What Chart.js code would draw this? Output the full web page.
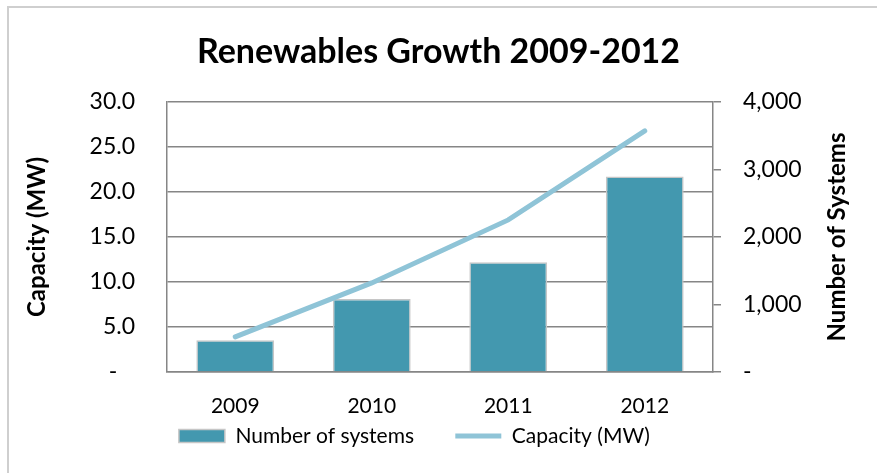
<!DOCTYPE html>
<html>
<head>
<meta charset="utf-8">
<script src="https://cdn.jsdelivr.net/npm/chart.js@4.4.1/dist/chart.umd.min.js"></script>
<style>
    body { margin: 0; background: #fff; overflow: hidden; }
    #wrap { position: relative; width: 877px; height: 473px; }
    #frame { position: absolute; left: 7px; top: 6px; width: 900px; height: 500px; border-top: 2px solid #cfcfcf; border-left: 2px solid #cfcfcf; }
    #chart { position: absolute; left: 0; top: 0; }
</style>
</head>
<body>
<div id="wrap">
    <div id="frame"></div>
    <canvas id="chart" width="877" height="473"></canvas>
</div>
<script>
const years = ['2009', '2010', '2011', '2012']
const systems = [470, 1080, 1625, 2895]
const capacity = [3.9, 9.9, 16.9, 26.8]
const capacityTicks = [0, 5, 10, 15, 20, 25, 30]
const systemTicks = [0, 1000, 2000, 3000, 4000]

const gridGray = '#868686'
const fontName = 'Lato'

// right axis title reads bottom-to-top, chart.js would draw it the other way
const rightTitle = {
    id: 'rightTitle',
    afterDraw(chart) {
        const ctx = chart.ctx
        const area = chart.chartArea
        ctx.save()
        ctx.translate(837, (area.top + area.bottom) / 2)
        ctx.rotate(-Math.PI / 2)
        ctx.font = 'bold 24px ' + fontName
        ctx.fillStyle = '#000'
        ctx.textAlign = 'center'
        ctx.textBaseline = 'middle'
        ctx.fillText('Number of Systems', 0, 0)
        ctx.restore()
    }
}

// trailing spaces only widen the legend items so the spacing looks like the excel one
const legendNames = ['Number of systems      ', 'Capacity (MW)         ']

new Chart(document.getElementById('chart'), {
    type: 'bar',
    data: {
        labels: years,
        datasets: [
            {
                label: legendNames[0],
                data: systems,
                yAxisID: 'y1',
                backgroundColor: '#4398AF',
                borderColor: '#c6c6c6',
                borderWidth: 1.5,
                barPercentage: 0.57,
                categoryPercentage: 1,
                pointStyle: 'rect',
                order: 2
            },
            {
                type: 'line',
                label: legendNames[1],
                data: capacity,
                yAxisID: 'y',
                borderColor: '#8FC4D7',
                backgroundColor: '#8FC4D7',
                borderWidth: 5,
                borderCapStyle: 'round',
                pointRadius: 0,
                pointStyle: 'line',
                tension: 0,
                order: 1
            }
        ]
    },
    options: {
        responsive: false,
        animation: false,
        layout: { padding: { left: 0, right: 0, top: 0, bottom: 16.5 } },
        plugins: {
            title: {
                display: true,
                text: 'Renewables Growth 2009-2012',
                color: '#000',
                font: { family: fontName, size: 34, weight: 'bold' },
                padding: { top: 32, bottom: 29.2 }
            },
            legend: {
                position: 'bottom',
                labels: {
                    color: '#000',
                    font: { family: fontName, size: 21 },
                    usePointStyle: true,
                    pointStyleWidth: 46,
                    boxHeight: 13,
                    padding: 9,
                    sort: (a, b) => a.datasetIndex - b.datasetIndex,
                    generateLabels(chart) {
                        const items = Chart.defaults.plugins.legend.labels.generateLabels(chart)
                        items.forEach(item => {
                            item.pointStyle = chart.data.datasets[item.datasetIndex].pointStyle
                        })
                        return items
                    }
                }
            },
            tooltip: { enabled: false }
        },
        scales: {
            x: {
                grid: { display: false, drawTicks: false },
                border: { display: true, color: gridGray, width: 1.5 },
                ticks: { color: '#000', font: { family: fontName, size: 21, lineHeight: 1 }, padding: 23.5 },
                afterFit(scale) { scale.height = 44.5 }
            },
            y: {
                position: 'left',
                min: 0,
                max: 30,
                afterBuildTicks(scale) { scale.ticks = capacityTicks.map(v => ({ value: v })) },
                grid: { color: gridGray, lineWidth: 1.5, drawTicks: false },
                border: { display: true, color: gridGray, width: 1.5 },
                ticks: {
                    color: '#000',
                    font: { family: fontName, size: 23 },
                    padding: 32,
                    callback: v => v === 0 ? '-   ' : v.toFixed(1)
                },
                title: {
                    display: true,
                    text: 'Capacity (MW)',
                    color: '#000',
                    font: { family: fontName, size: 24, weight: 'bold' },
                    padding: { top: 22.6, bottom: 0 }
                },
                afterFit(scale) { scale.width = 167 }
            },
            y1: {
                position: 'right',
                min: 0,
                max: 4000,
                afterBuildTicks(scale) { scale.ticks = systemTicks.map(v => ({ value: v })) },
                grid: { drawOnChartArea: false, color: gridGray, lineWidth: 1.5, tickLength: 8 },
                border: { display: true, color: gridGray, width: 1.5 },
                ticks: {
                    color: '#000',
                    font: { family: fontName, size: 23 },
                    padding: 22,
                    callback: v => v === 0 ? '-' : v.toLocaleString('en-US')
                },
                afterFit(scale) { scale.width = 164 }
            }
        }
    },
    plugins: [rightTitle]
})
</script>
</body>
</html>
